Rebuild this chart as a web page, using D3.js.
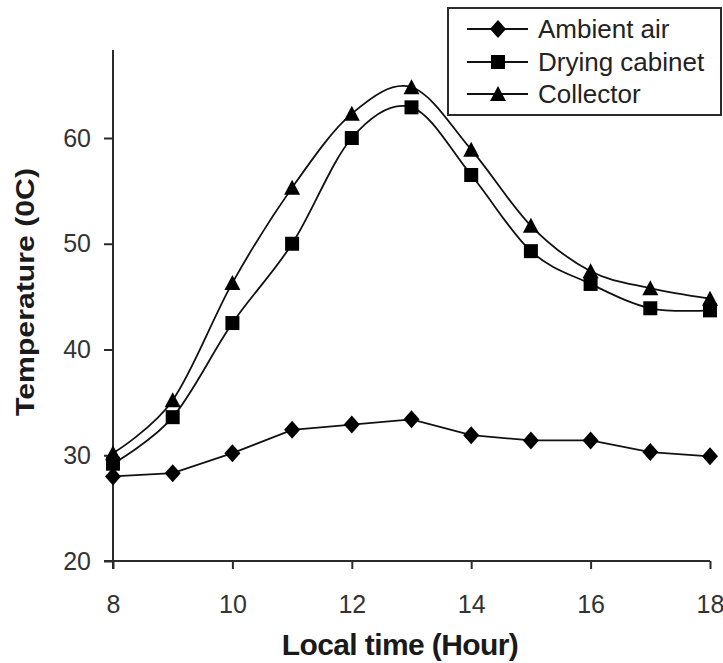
<!DOCTYPE html>
<html>
<head>
<meta charset="utf-8">
<script src="https://cdn.jsdelivr.net/npm/d3@7"></script>
<style>
  body { margin: 0; background: #fff; }
  svg { display: block; font-family: "Liberation Sans", Arial, sans-serif; }
</style>
</head>
<body>
<div class="chart"></div>
<script>

  ///////////////////////////////////////////////////////////////////////////
  ////////////////////////////////// Data ///////////////////////////////////
  ///////////////////////////////////////////////////////////////////////////

  var hours = [8, 9, 10, 11, 12, 13, 14, 15, 16, 17, 18]
  var ambientAir = [28.0, 28.3, 30.2, 32.4, 32.9, 33.4, 31.9, 31.4, 31.4, 30.3, 29.9]
  var dryingCabinet = [29.2, 33.6, 42.5, 50.0, 60.0, 62.9, 56.5, 49.3, 46.2, 43.9, 43.7]
  var collector = [30.2, 35.2, 46.3, 55.3, 62.3, 64.8, 58.9, 51.7, 47.4, 45.8, 44.8]
  var seriesNames = ["Ambient air", "Drying cabinet", "Collector"]
  var xTicks = [8, 10, 12, 14, 16, 18]
  var yTicks = [20, 30, 40, 50, 60]

  ///////////////////////////////////////////////////////////////////////////
  ///////////////////////////////// Globals /////////////////////////////////
  ///////////////////////////////////////////////////////////////////////////

  var canvasDim = { width: 723, height: 663 }
  var plot = { left: 113, right: 710, top: 50, bottom: 561 }
  var axisColor = "#2b2b2b"

  var svg = d3.select(".chart").append("svg")
    .attr("width", canvasDim.width)
    .attr("height", canvasDim.height)

  svg.append("rect")
    .attr("width", canvasDim.width)
    .attr("height", canvasDim.height)
    .attr("fill", "#fff")

  ///////////////////////////////////////////////////////////////////////////
  ///////////////////////////// Create scales ///////////////////////////////
  ///////////////////////////////////////////////////////////////////////////

  var xScale = d3.scaleLinear()
    .domain([8, 18])
    .range([plot.left, plot.right])

  var yScale = d3.scaleLinear()
    .domain([20, 70])
    .range([plot.bottom, plot.bottom - 5 * 105.75])

  var series = [
    { name: seriesNames[0], values: ambientAir, shape: "diamond", curve: d3.curveLinear },
    { name: seriesNames[1], values: dryingCabinet, shape: "square", curve: d3.curveCardinal.tension(0) },
    { name: seriesNames[2], values: collector, shape: "triangle", curve: d3.curveCardinal.tension(0) }
  ]

  ///////////////////////////////////////////////////////////////////////////
  ////////////////////////////////// Axes ///////////////////////////////////
  ///////////////////////////////////////////////////////////////////////////

  var xAxis = svg.append("g")
    .attr("transform", "translate(0," + plot.bottom + ")")
    .call(d3.axisBottom(xScale).tickValues(xTicks).tickSize(8).tickPadding(26))

  var yAxis = svg.append("g")
    .attr("transform", "translate(" + plot.left + ",0)")
    .call(d3.axisLeft(yScale).tickValues(yTicks).tickSize(9).tickPadding(13))

  xAxis.select(".domain").remove()
  yAxis.select(".domain").remove()

  svg.append("line")
    .attr("x1", plot.left - 9).attr("x2", plot.right)
    .attr("y1", plot.bottom).attr("y2", plot.bottom)
    .attr("stroke", axisColor).attr("stroke-width", 2)

  svg.append("line")
    .attr("x1", plot.left).attr("x2", plot.left)
    .attr("y1", plot.top).attr("y2", plot.bottom + 8)
    .attr("stroke", axisColor).attr("stroke-width", 2)

  svg.selectAll(".tick line")
    .attr("stroke", axisColor)
    .attr("stroke-width", 2)

  svg.selectAll(".tick text")
    .attr("fill", "#333")
    .style("font-size", "25px")
    .style("font-family", "'Liberation Sans', Arial, sans-serif")

  svg.append("text")
    .attr("x", 400)
    .attr("y", 655)
    .attr("text-anchor", "middle")
    .style("font-size", "30px")
    .style("font-weight", "bold")
    .style("letter-spacing", "-0.6px")
    .attr("fill", "#1a1a1a")
    .text("Local time (Hour)")

  // y title is drawn thinner than it is long in the original, so stretch it
  svg.append("text")
    .attr("transform", "translate(34,292) rotate(-90)")
    .attr("text-anchor", "middle")
    .attr("textLength", 248)
    .attr("lengthAdjust", "spacingAndGlyphs")
    .style("font-size", "25px")
    .style("font-weight", "bold")
    .attr("fill", "#1a1a1a")
    .text("Temperature (0C)")

  ///////////////////////////////////////////////////////////////////////////
  //////////////////////////////// Series ///////////////////////////////////
  ///////////////////////////////////////////////////////////////////////////

  function markerPath(shape) {
    if (shape == "diamond") return "M0,-9L8,0L0,9L-8,0Z"
    if (shape == "square") return "M-7,-7H7V7H-7Z"
    return "M0,-8L8,7H-8Z"
  }

  var lines = svg.append("g").attr("class", "lines")

  series.forEach(function(s) {
    var pts = hours.map(function(h, i) { return [xScale(h), yScale(s.values[i])] })

    lines.append("path")
      .attr("d", d3.line().curve(s.curve)(pts))
      .attr("fill", "none")
      .attr("stroke", "#111")
      .attr("stroke-width", 1.8)

    lines.selectAll(null).data(pts).enter().append("path")
      .attr("transform", function(d) { return "translate(" + d[0] + "," + d[1] + ")" })
      .attr("d", markerPath(s.shape))
      .attr("fill", "#000")
  })

  ///////////////////////////////////////////////////////////////////////////
  //////////////////////////////// Legend ///////////////////////////////////
  ///////////////////////////////////////////////////////////////////////////

  var legend = svg.append("g").attr("class", "legend")

  legend.append("rect")
    .attr("x", 448).attr("y", 8)
    .attr("width", 273).attr("height", 107)
    .attr("fill", "#fff")
    .attr("stroke", axisColor)
    .attr("stroke-width", 2)

  var rows = legend.selectAll(".row").data(series).enter().append("g")
    .attr("class", "row")
    .attr("transform", function(d, i) { return "translate(0," + [29, 62, 94][i] + ")" })

  rows.append("line")
    .attr("x1", 467).attr("x2", 528)
    .attr("stroke", "#111").attr("stroke-width", 1.8)

  rows.append("path")
    .attr("transform", "translate(498,0)")
    .attr("d", function(d) { return markerPath(d.shape) })
    .attr("fill", "#000")

  rows.append("text")
    .attr("x", 538)
    .attr("dy", "0.35em")
    .style("font-size", "26px")
    .attr("fill", "#222")
    .text(function(d) { return d.name })

</script>
</body>
</html>
